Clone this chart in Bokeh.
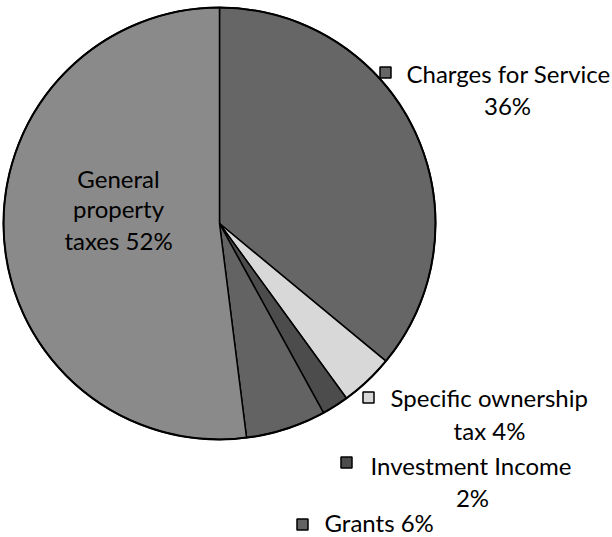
import numpy as np
from bokeh.plotting import figure
from bokeh.models import ColumnDataSource, Range1d
from bokeh.core.properties import value
from bokeh.embed import file_html
from bokeh.resources import INLINE

# ---- data ----
categories = ["Charges for Service", "Specific ownership tax", "Investment Income",
              "Grants", "General property taxes"]
percents = [36, 4, 2, 6, 52]
colors = ["#666666", "#d8d8d8", "#4c4c4c", "#636363", "#8a8a8a"]

# ---- layout ----
W, H = 612, 537


def Y(y):
    """image row -> data y"""
    return H - y


p = figure(width=W, height=H, x_range=Range1d(0, W), y_range=Range1d(0, H),
           output_backend="svg", toolbar_location=None, min_border=0,
           x_axis_type=None, y_axis_type=None, outline_line_color=None)
p.grid.visible = False

cx, cy, R = 219, 223, 216
frac = np.array(percents, dtype=float) / sum(percents)
cum = np.concatenate([[0.0], np.cumsum(frac)])
start = np.pi / 2 - 2 * np.pi * cum[:-1]
end = np.pi / 2 - 2 * np.pi * cum[1:]

src = ColumnDataSource(dict(cat=categories, pct=percents, start=start, end=end, color=colors))
p.wedge(x=cx, y=Y(cy), radius=R, start_angle="start", end_angle="end", direction="clock",
        fill_color="color", line_color="black", line_width=1.5, source=src)
p.circle(x=cx, y=Y(cy), radius=R, fill_color=None, line_color="black", line_width=2)

FONT = value("Lato")
FS = "24px"

# outside labels (first four slices)
line1 = ["Charges for Service", "Specific ownership", "Investment Income",
         f"Grants {percents[3]}%"]
line2 = [f"{percents[0]}%", f"tax {percents[1]}%", f"{percents[2]}%"]
mk_x = [385, 368, 346, 302]
mk_y = [72, 397, 462, 524]
l1_x = [406, 390, 370, 324]
l1_y = [73, 397, 465, 522]
l2_x = [507, 489, 472]
l2_y = [105, 430, 497]

p.scatter(x=mk_x, y=[Y(v) for v in mk_y], marker="square", size=11,
          fill_color=colors[:4], line_color="black", line_width=1.5)
p.text(x=l1_x, y=[Y(v) for v in l1_y], text=line1, text_font=FONT, text_font_size=FS,
       text_align="left", text_baseline="middle", text_color="black")
p.text(x=l2_x, y=[Y(v) for v in l2_y], text=line2, text_font=FONT,
       text_font_size=FS, text_align="center", text_baseline="middle", text_color="black")

# inside label for the largest slice
inner = ["General", "property", f"taxes {percents[4]}%"]
p.text(x=[118, 118, 118], y=[Y(178), Y(208), Y(240)], text=inner, text_font=FONT,
       text_font_size=FS, text_align="center", text_baseline="middle", text_color="black")

open("out.html", "w").write(file_html(p, INLINE))
